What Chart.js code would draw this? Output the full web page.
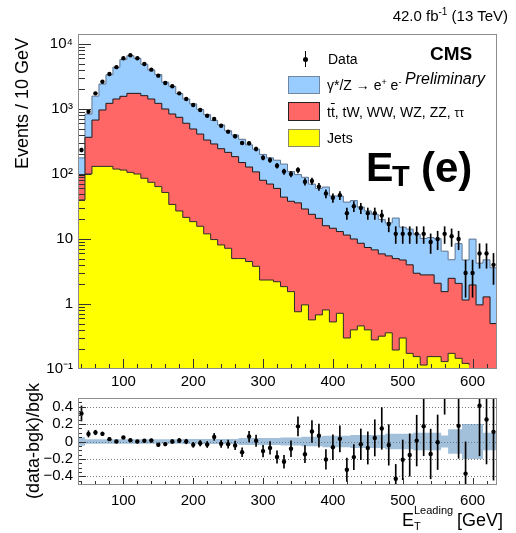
<!DOCTYPE html>
<html>
<head>
<meta charset="utf-8">
<title>Leading electron E_T</title>
<script src="https://cdn.jsdelivr.net/npm/chart.js@4.4.1/dist/chart.umd.min.js"></script>
<style>
  html, body { margin:0; padding:0; background:#fff; }
  body { position:relative; width:516px; height:533px; overflow:hidden;
         font-family:"Liberation Sans", Arial, Helvetica, sans-serif; color:#000; }
  canvas { position:absolute; left:0; }
  #mainCanvas { top:0; }
  #ratioCanvas { top:390px; }
  .lbl { position:absolute; white-space:nowrap; line-height:1; }
  .vert { writing-mode:vertical-rl; transform:rotate(180deg); }
  .sw { position:absolute; box-sizing:border-box; left:288px; width:32px; }
  .up { position:relative; }
</style>
</head>
<body>
<canvas id="mainCanvas" width="516" height="390"></canvas>
<canvas id="ratioCanvas" width="516" height="143"></canvas>

<!-- luminosity / energy -->
<div class="lbl" style="right:8px;top:8px;font-size:15px;">42.0 fb<span class="up" style="font-size:10px;top:-6px;">-1</span> (13 TeV)</div>

<!-- experiment label -->
<div class="lbl" style="left:430px;top:44px;font-size:19px;font-weight:bold;">CMS</div>
<div class="lbl" style="left:405px;top:71px;font-size:16px;font-style:italic;">Preliminary</div>

<!-- variable tag -->
<div class="lbl" style="left:366px;top:147px;font-size:41px;font-weight:bold;">E</div>
<div class="lbl" style="left:392px;top:162px;font-size:29px;font-weight:bold;">T</div>
<div class="lbl" style="left:421px;top:147px;font-size:42px;font-weight:bold;">(e)</div>

<!-- legend -->
<div style="position:absolute;left:305px;top:51px;width:1px;height:16px;background:#000;"></div>
<div style="position:absolute;left:303px;top:57px;width:5px;height:5px;border-radius:50%;background:#000;"></div>
<div class="lbl" style="left:328px;top:52px;font-size:14px;">Data</div>

<div class="sw" style="top:76px;height:18px;background:#99ccff;border:1px solid #6d87a3;"></div>
<div class="lbl" style="left:327px;top:78px;font-size:14px;">γ*/Z → e<span class="up" style="font-size:9px;top:-5px;">+</span> e<span class="up" style="font-size:9px;top:-5px;">-</span></div>

<div class="sw" style="top:102px;height:19px;background:#ff6666;border:1px solid #222;"></div>
<div class="lbl" style="left:327px;top:105px;font-size:14px;">t<span style="text-decoration:overline;">t</span>, tW, WW, WZ, ZZ, <span style="font-size:12px;">ττ</span></div>

<div class="sw" style="top:129px;height:18px;background:#ffff00;border:1px solid #8a8a60;"></div>
<div class="lbl" style="left:327px;top:131px;font-size:14px;">Jets</div>

<!-- axis titles -->
<div class="lbl vert" style="left:13px;top:38px;font-size:18px;">Events / 10 GeV</div>
<div class="lbl vert" style="left:24px;top:383px;font-size:18px;">(data-bgk)/bgk</div>

<div class="lbl" style="left:402px;top:511px;font-size:18px;">E</div>
<div class="lbl" style="left:414px;top:505px;font-size:11px;">Leading</div>
<div class="lbl" style="left:414px;top:521px;font-size:11px;">T</div>
<div class="lbl" style="left:457px;top:511px;font-size:18px;">[GeV]</div>

<script>
// ---------------- binning (10 GeV bins, low edges in GeV) ----------------
const binLowEdges = [35,45,55,65,75,85,95,105,115,125,
                     135,145,155,165,175,185,195,205,215,225,
                     235,245,255,265,275,285,295,305,315,325,
                     335,345,355,365,375,385,395,405,415,425,
                     435,445,455,465,475,485,495,505,515,525,
                     535,545,555,565,575,585,595,605,615,625];
const binUpperEdge = 635;
const binHalfWidth = 5;

// ---------------- expected events per bin ----------------
const jets = [40,100,131,131,131,119,115,106,100,86,
              74.5,64,52,34,27,21.5,18.5,15.7,12,9.8,
              8.1,7.2,5.0,5.0,4.5,3.8,2.34,2.34,2.2,1.85,
              1.55,0.76,0.97,0.57,0.68,0.81,0.53,0.72,0.30,0.40,
              0.46,0.40,0.28,0.32,0.36,0.196,0.30,0.174,0.155,0.115,
              0.155,0.155,0.13,0.174,0.146,0.122,0.115,0,0.146,0];

const ttbarEtc = [55,267,545,835,1091,1306,1452,1634,1640,1518,
                  1350,1158,948,804,718,582,474,396,321,280,
                  237,208,180,145,123.5,104,77.7,67.7,57.8,42.2,
                  36.5,35.2,28,23.4,20.1,15.2,14.1,12.3,11.2,9.6,
                  8.14,7.0,6.52,5.58,5.14,4.8,4.45,3.83,2.82,2.69,
                  2.65,1.93,1.42,2.31,1.93,1.03,1.85,0.97,1.14,0.5];

const drellYan = [82,468,903,1451,2137,2975,4198,4860,4290,3276,
                  2561,2167,1588,1397,978,822,707,574,484,377,
                  323,247,213,192,153,133,120,107,103,98,
                  71,62,60,46,39.2,47,31.4,32.6,25.5,29,
                  22.4,19.6,17.2,14.1,12.2,16,10.45,10.2,8.9,7.4,
                  7.7,8.0,4.95,2.32,6.4,3.6,8.0,3.28,3.5,3.1];

// ---------------- observed events per bin ----------------
const observed = [234,908,1742,2630,3450,4400,6030,6700,6030,4920,
                  4030,3260,2510,2235,1742,1425,1153,966,789,702,
                  553,448,380,300,297,243,178,164,134,109,
                  100,115,76,78,64,50,43,47,25,32,
                  30,25,25,23,17,12,12,12,12,12,
                  9,10,12,11,10,3,3,6,6,4];

// ---------------- relative background uncertainty per bin ----------------
const bkgRelUnc = [0.05,0.025,0.025,0.025,0.025,0.025,0.025,0.025,0.025,0.025,
                   0.025,0.025,0.025,0.025,0.025,0.03,0.03,0.03,0.03,0.03,
                   0.03,0.03,0.03,0.04,0.04,0.04,0.04,0.04,0.04,0.045,
                   0.045,0.045,0.055,0.055,0.055,0.065,0.065,0.065,0.065,0.075,
                   0.075,0.075,0.075,0.075,0.09,0.09,0.09,0.09,0.1,0.1,
                   0.1,0.1,0.07,0.14,0.14,0.2,0.2,0.2,0.1,0.1];

// ---------------- axis tick labels ----------------
const xTickValues = [100,200,300,400,500,600];
const yLogTickValues = [0.1,1,10,100,1000,10000];
const yLogTickLabels = ['10\u207B\u00B9','1','10','10\u00B2','10\u00B3','10\u2074'];
const ratioTickValues = [-0.4,-0.2,0,0.2,0.4];
const ratioTickLabels = ['\u22120.4','\u22120.2','0','0.2','0.4'];

// ---------------- derived series ----------------
const nBins = binLowEdges.length;
const centres = binLowEdges.map(x => x + binHalfWidth);
const stackRed = jets.map((v, i) => v + ttbarEtc[i]);
const stackTotal = stackRed.map((v, i) => v + drellYan[i]);
const ratio = observed.map((d, i) => d / stackTotal[i] - 1);
const ratioErr = observed.map((d, i) => Math.sqrt(d) / stackTotal[i]);

// histogram outline: each value holds from its low edge to the next edge
const stepPoints = arr => binLowEdges.map((x, i) => ({x, y: arr[i]}))
                                     .concat([{x: binUpperEdge, y: arr[nBins - 1]}]);

Chart.defaults.font.family = '"Liberation Sans", Arial, Helvetica, sans-serif';
Chart.defaults.font.size = 15;
Chart.defaults.color = '#000';
Chart.defaults.animation = false;

// frame, inward tick marks and optional dotted reference lines
function panelDecor(cfg) {
  return {
    id: 'panelDecor',
    beforeDatasetsDraw(chart) {
      if (!cfg.gridValues) return;
      const {ctx, chartArea: a, scales: {y}} = chart;
      ctx.save();
      ctx.strokeStyle = '#7a7a7a';
      ctx.lineWidth = 1;
      ctx.setLineDash([1, 2]);
      cfg.gridValues.forEach(v => {
        const py = Math.round(y.getPixelForValue(v)) + 0.5;
        ctx.beginPath(); ctx.moveTo(a.left, py); ctx.lineTo(a.right, py); ctx.stroke();
      });
      ctx.restore();
    },
    afterDatasetsDraw(chart) {
      const {ctx, chartArea: a, scales: {x, y}} = chart;
      ctx.save();
      ctx.strokeStyle = '#333';
      ctx.lineWidth = 1;
      for (let v = 40; v < binUpperEdge; v += 20) {
        const px = Math.round(x.getPixelForValue(v)) + 0.5;
        const len = (v % 100 === 0) ? cfg.xMajor : cfg.xMinor;
        ctx.beginPath(); ctx.moveTo(px, a.bottom); ctx.lineTo(px, a.bottom - len); ctx.stroke();
      }
      cfg.yTicks().forEach(([v, major]) => {
        const py = Math.round(y.getPixelForValue(v)) + 0.5;
        if (py < a.top || py > a.bottom) return;
        ctx.beginPath(); ctx.moveTo(a.left, py); ctx.lineTo(a.left + (major ? cfg.yMajor : cfg.yMinor), py); ctx.stroke();
      });
      ctx.strokeStyle = '#8c8c8c';
      ctx.strokeRect(a.left + 0.5, a.top + 0.5, a.right - a.left - 1, a.bottom - a.top - 1);
      ctx.restore();
    }
  };
}

const logTicks = () => {
  const out = [];
  for (let e = -1; e <= 4; e++) {
    for (let m = 1; m <= 9; m++) out.push([m * Math.pow(10, e), m === 1]);
  }
  return out;
};
const ratioTicks = () => {
  const out = [];
  for (let k = -10; k <= 10; k++) out.push([k * 0.05, k % 4 === 0]);
  return out;
};

const noPad = s => { s.paddingTop = 0; s.paddingBottom = 0; s.paddingLeft = 0; s.paddingRight = 0; };

// ---------------- main panel ----------------
new Chart(document.getElementById('mainCanvas'), {
  type: 'line',
  data: {
    datasets: [
      { label: 'Data', data: centres.map((x, i) => ({x, y: observed[i]})),
        showLine: false, pointRadius: 2.2, pointBackgroundColor: '#000', pointBorderWidth: 0, order: 0 },
      { type: 'bar', label: 'Data error',
        data: centres.map((x, i) => ({x, y: [observed[i] - Math.sqrt(observed[i]), observed[i] + Math.sqrt(observed[i])]})),
        backgroundColor: '#000', barThickness: 1, order: 1 },
      { label: 'Jets', data: stepPoints(jets), stepped: 'before', fill: 'start',
        backgroundColor: '#ffff00', borderColor: '#2b2b2b', borderWidth: 1, pointRadius: 0, order: 2 },
      { label: 'tt, tW, WW, WZ, ZZ, tautau', data: stepPoints(stackRed), stepped: 'before', fill: 'start',
        backgroundColor: '#ff6666', borderColor: '#1a1a1a', borderWidth: 1, pointRadius: 0, order: 3 },
      { label: 'DY -> ee', data: stepPoints(stackTotal), stepped: 'before', fill: 'start',
        backgroundColor: '#99ccff', borderColor: '#5f7590', borderWidth: 1, pointRadius: 0, order: 4 }
    ]
  },
  options: {
    responsive: false,
    animation: false,
    layout: { padding: { top: 34, right: 19, left: 0, bottom: 0 } },
    plugins: { legend: { display: false }, tooltip: { enabled: false } },
    scales: {
      x: {
        type: 'linear', min: 35, max: binUpperEdge, offset: false,
        grid: { display: false, drawTicks: false }, border: { display: false },
        ticks: { padding: 4, maxRotation: 0, autoSkip: false },
        afterBuildTicks: s => { s.ticks = xTickValues.map(v => ({value: v})); },
        afterFit: s => { s.height = 21; noPad(s); }
      },
      y: {
        type: 'logarithmic', min: 0.1, max: 14250,
        grid: { display: false, drawTicks: false }, border: { display: false },
        ticks: { padding: 5, autoSkip: false,
                 callback: v => { const k = yLogTickValues.findIndex(t => Math.abs(t - v) < t * 1e-6); return k < 0 ? '' : yLogTickLabels[k]; } },
        afterBuildTicks: s => { s.ticks = yLogTickValues.map(v => ({value: v})); },
        afterFit: s => { s.width = 78; noPad(s); }
      }
    }
  },
  plugins: [panelDecor({ xMajor: 10, xMinor: 5, yMajor: 13, yMinor: 7, yTicks: logTicks })]
});

// ---------------- ratio panel ----------------
new Chart(document.getElementById('ratioCanvas'), {
  type: 'line',
  data: {
    datasets: [
      { label: 'Ratio', data: centres.map((x, i) => ({x, y: ratio[i]})),
        showLine: false, pointRadius: 2.2, pointBackgroundColor: '#000', pointBorderWidth: 0, order: 0 },
      { type: 'bar', label: 'Ratio error',
        data: centres.map((x, i) => ({x, y: [ratio[i] - ratioErr[i], ratio[i] + ratioErr[i]]})),
        backgroundColor: '#000', barThickness: 1, order: 1 },
      { label: 'Bkg unc up', data: stepPoints(bkgRelUnc), stepped: 'before', fill: '+1',
        backgroundColor: 'rgba(70,130,180,0.5)', borderWidth: 0, pointRadius: 0, order: 2 },
      { label: 'Bkg unc down', data: stepPoints(bkgRelUnc.map(u => -u)), stepped: 'before', fill: false,
        borderWidth: 0, pointRadius: 0, order: 3 }
    ]
  },
  options: {
    responsive: false,
    animation: false,
    layout: { padding: { top: 8, right: 19, left: 0, bottom: 0 } },
    plugins: { legend: { display: false }, tooltip: { enabled: false } },
    scales: {
      x: {
        type: 'linear', min: 35, max: binUpperEdge, offset: false,
        grid: { display: false, drawTicks: false }, border: { display: false },
        ticks: { padding: 7, maxRotation: 0, autoSkip: false },
        afterBuildTicks: s => { s.ticks = xTickValues.map(v => ({value: v})); },
        afterFit: s => { s.height = 48; noPad(s); }
      },
      y: {
        type: 'linear', min: -0.5, max: 0.5,
        grid: { display: false, drawTicks: false }, border: { display: false },
        ticks: { padding: 5, autoSkip: false,
                 callback: v => { const k = ratioTickValues.findIndex(t => Math.abs(t - v) < 1e-6); return k < 0 ? '' : ratioTickLabels[k]; } },
        afterBuildTicks: s => { s.ticks = ratioTickValues.map(v => ({value: v})); },
        afterFit: s => { s.width = 78; noPad(s); }
      }
    }
  },
  plugins: [panelDecor({ xMajor: 7, xMinor: 4, yMajor: 8, yMinor: 4, yTicks: ratioTicks, gridValues: ratioTickValues })]
});
</script>
</body>
</html>
